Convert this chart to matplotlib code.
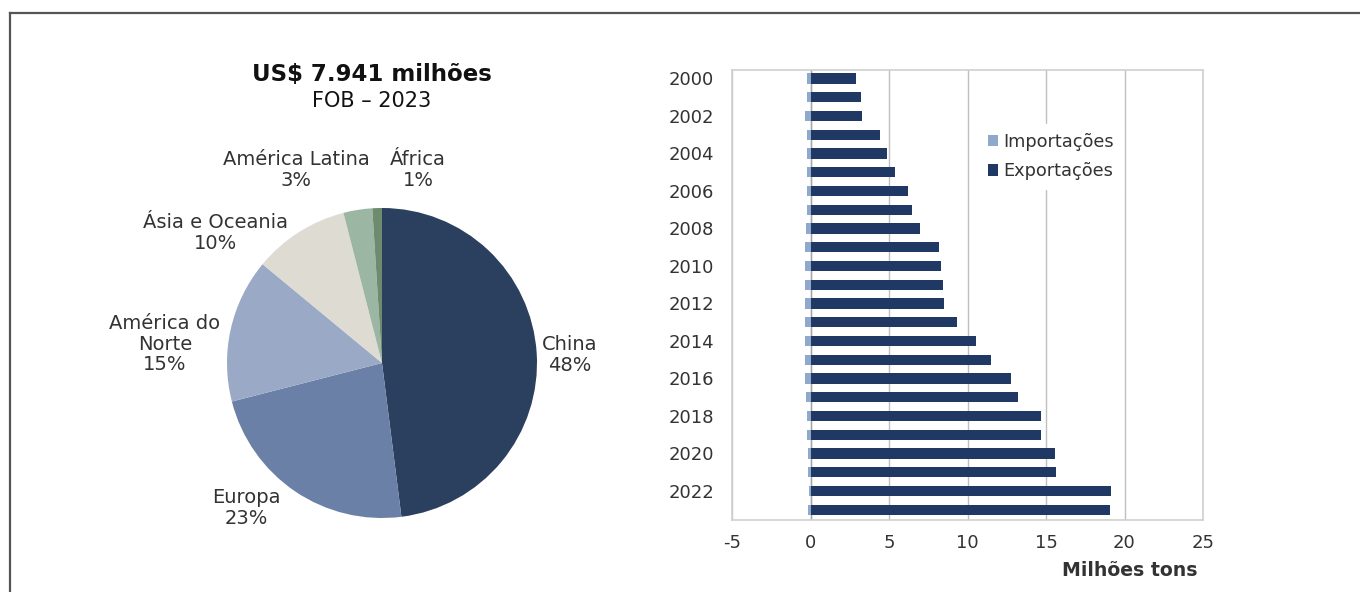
import matplotlib
matplotlib.use('Agg')
import matplotlib.pyplot as plt
from matplotlib.lines import Line2D
import numpy as np

plt.rcParams['font.family'] = ['DejaVu Sans']
plt.rcParams['axes.unicode_minus'] = False

# --- pie data (destinos das exportações, US$ FOB 2023) ---
regions = ['China', 'Europa', 'América do\nNorte', 'Ásia e Oceania',
           'América Latina', 'África']
shares = [48, 23, 15, 10, 3, 1]
pie_colors = ['#2b3f5f', '#6b80a6', '#9aaac6', '#dedbd3', '#9bb6a2', '#6e8b70']

# --- bar data (milhões de toneladas) ---
years = list(range(2000, 2024))
exports = [2.9, 3.2, 3.3, 4.4, 4.85, 5.4, 6.2, 6.45, 6.95, 8.2, 8.3, 8.45,
           8.5, 9.35, 10.55, 11.5, 12.8, 13.2, 14.65, 14.65, 15.6, 15.65,
           19.15, 19.05]
imports = [-0.25, -0.25, -0.35, -0.25, -0.25, -0.25, -0.25, -0.25, -0.3,
           -0.35, -0.35, -0.35, -0.35, -0.35, -0.35, -0.35, -0.35, -0.3,
           -0.2, -0.2, -0.15, -0.15, -0.1, -0.15]

TEXT = '#333333'
GRID = '#bfbfbf'
EXP_COLOR = '#1f3864'
IMP_COLOR = '#8fa9cc'

W, H = 1360, 592
fig = plt.figure(figsize=(W / 100, H / 100), dpi=100)

# outer frame (top and left only)
fig.add_artist(Line2D([10 / W, 1], [1 - 13 / H, 1 - 13 / H], color='#555555', lw=1.6))
fig.add_artist(Line2D([10 / W, 10 / W], [0, 1 - 13 / H], color='#555555', lw=1.6))

# --- pie ---
cx, cy, r = 382, 363, 155
ax_pie = fig.add_axes([(cx - r) / W, 1 - (cy + r) / H, 2 * r / W, 2 * r / H])
ax_pie.pie(shares, colors=pie_colors, startangle=90, counterclock=False,
           radius=1, wedgeprops=dict(linewidth=0))
ax_pie.set_xlim(-1, 1)
ax_pie.set_ylim(-1, 1)
ax_pie.axis('off')

label_pos = [(1.213, 0.05), (-0.877, -0.935), (-1.40, 0.12),
             (-1.071, 0.839), (-0.555, 1.245), (0.232, 1.245)]
for name, s, (lx, ly) in zip(regions, shares, label_pos):
    ax_pie.text(lx, ly, f'{name}\n{s}%', ha='center', va='center',
                fontsize=14, color=TEXT, linespacing=1.1, clip_on=False)

fig.text(372 / W, 1 - 75 / H, 'US$ 7.941 milhões', ha='center', va='center',
         fontsize=16.5, fontweight='bold', color='#111111')
fig.text(372 / W, 1 - 101 / H, 'FOB \u2013 2023', ha='center', va='center',
         fontsize=15, color='#111111')

# --- horizontal bars ---
ax = fig.add_axes([732 / W, 1 - 520 / H, (1203 - 732) / W, (520 - 70) / H])
y = np.arange(len(years))
ax.barh(y, imports, height=0.55, color=IMP_COLOR, label='Importações', zorder=3)
ax.barh(y, exports, height=0.55, color=EXP_COLOR, label='Exportações', zorder=3)

ax.set_xlim(-5, 25)
ax.set_ylim(23.55, -0.45)
ax.set_xticks(range(-5, 26, 5))
ax.set_yticks(y[::2])
ax.set_yticklabels([str(v) for v in years[::2]])
ax.tick_params(axis='both', length=0, labelsize=13, labelcolor=TEXT)
ax.tick_params(axis='x', pad=10)
ax.tick_params(axis='y', pad=13)
ax.grid(axis='x', color=GRID, linewidth=1, zorder=0)
ax.axvline(0, color='#a6a6a6', linewidth=1, zorder=2)
for sp in ax.spines.values():
    sp.set_color('#d0d0d0')
    sp.set_linewidth(1.2)

leg = ax.legend(loc='upper left', bbox_to_anchor=(0.505, 0.9), frameon=True,
                fontsize=12.8, handlelength=0.6, handleheight=0.6,
                handletextpad=0.3, borderpad=0.5, labelspacing=0.65)
leg.get_frame().set_facecolor('white')
leg.get_frame().set_edgecolor('white')
leg.get_frame().set_alpha(1)
for t in leg.get_texts():
    t.set_color(TEXT)

fig.text(1197 / W, 1 - 570 / H, 'Milhões tons', ha='right', va='center',
         fontsize=13.6, fontweight='bold', color=TEXT)

fig.savefig('out.png', dpi=100, facecolor='white')
